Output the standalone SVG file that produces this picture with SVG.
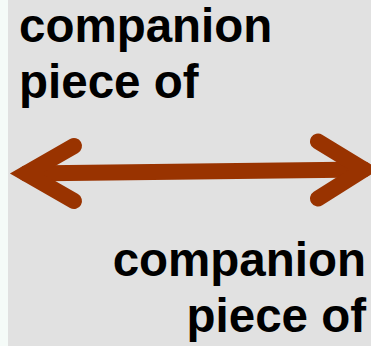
<svg xmlns="http://www.w3.org/2000/svg" width="371" height="346" viewBox="0 0 371 346">
<style>
.lbl{font-family:"Liberation Sans",Arial,sans-serif;font-weight:bold;font-size:47.5px;fill:#000}
.arr{fill:none;stroke:#993300;stroke-width:16;stroke-linecap:round;stroke-linejoin:miter;stroke-miterlimit:6}
</style>
<rect x="0" y="0" width="371" height="346" fill="#f5fbf8"/>
<rect x="8" y="0" width="363" height="346" fill="#e1e1e1"/>
<g id="connectors">
<path class="arr" d="M26,173.5 L364,169.5"/>
<polyline class="arr" points="74,146 26,173.5 74,201"/>
<polyline class="arr" points="318,141.5 364,169.5 318,198.5"/>
</g>
<g id="label-top">
<text class="lbl" x="19" y="42">companion</text>
<text class="lbl" x="19" y="98">piece of</text>
</g>
<g id="label-bottom">
<text class="lbl" x="366" y="276" text-anchor="end">companion</text>
<text class="lbl" x="366" y="332" text-anchor="end">piece of</text>
</g>
</svg>
